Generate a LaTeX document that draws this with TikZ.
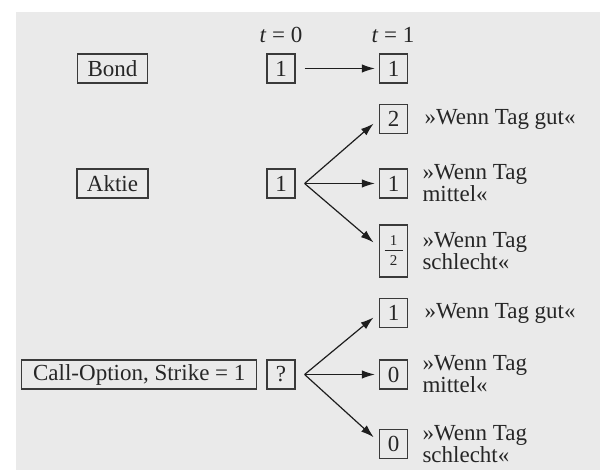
\documentclass[tikz,border=0pt]{standalone}
\usepackage{fontspec}
\setmainfont{Liberation Serif}
\usepackage{tikz}
\usetikzlibrary{arrows.meta,positioning}
\definecolor{bggray}{HTML}{EAEAEA}
\definecolor{boxline}{HTML}{3A3A3A}
\definecolor{arrowline}{HTML}{1E1E1E}
\newcommand{\halb}{\vbox{\hbox to 9pt{\hss\fontsize{7.5}{8}\selectfont 1\hss}\kern2pt\hrule height 0.5pt\kern2.5pt\hbox to 9pt{\hss\fontsize{7.5}{8}\selectfont 2\hss}}}
\tikzset{
  txt/.style={font=\fontsize{11.5}{11}\selectfont, text=black!85},
  wert/.style={txt, draw=boxline, line width=0.6pt, minimum width=14pt, minimum height=14.5pt, inner sep=0pt},
  titel/.style={txt, draw=boxline, line width=0.6pt, minimum height=14.5pt, inner xsep=5pt, inner ysep=0pt},
  zustand/.style={txt, align=left, inner sep=0pt},
  pfeil/.style={-{Latex[length=6.5pt,width=4.2pt]}, draw=arrowline, line width=0.6pt, shorten >=3.5pt}
}
\begin{document}
\begin{tikzpicture}[x=5pt,y=5pt]
\useasboundingbox (0,0) rectangle (60,47);
\fill[bggray] (1.6,0) rectangle (60,45.8);
\node[txt] (tnull) at (28.1,43.5) {\textit{t} = 0};
\node[txt] (teins) at (39.3,43.5) {\textit{t} = 1};
\node[titel, minimum width=34.5pt] (bond) at (11.25,40.15) {Bond};
\node[wert] (bond0) at (28.1,40.15) {1};
\node[wert] (bond1) at (39.35,40.15) {1};
\draw[pfeil, shorten <=4.5pt, shorten >=2pt] (bond0) -- (bond1);
\node[titel, minimum width=34.5pt] (aktie) at (11.25,28.65) {Aktie};
\node[wert] (aktie0) at (28.1,28.65) {1};
\node[wert] (aktieGut) at (39.35,35.1) {2};
\node[wert] (aktieMittel) at (39.35,28.65) {1};
\node[wert, minimum height=26pt] (aktieSchlecht) at (39.35,21.9) {\halb};
\node[zustand, right=8pt of aktieGut] (aktieGutTxt) {»Wenn Tag gut«};
\node[zustand, right=7pt of aktieMittel] (aktieMittelTxt) {»Wenn Tag\\mittel«};
\node[zustand, right=7pt of aktieSchlecht] (aktieSchlechtTxt) {»Wenn Tag\\schlecht«};
\coordinate (aktieS) at ([xshift=4.5pt]aktie0.east);
\draw[pfeil] (aktieS) -- (aktieGut.west);
\draw[pfeil, shorten >=2pt] (aktieS) -- (aktieMittel.west);
\draw[pfeil] (aktieS) -- ([yshift=2pt]aktieSchlecht.west);
\node[wert] (call0) at (28.1,9.55) {?};
\node[titel, minimum width=117.5pt, left=4.5pt of call0] (call) {Call-Option, Strike = 1};
\node[wert] (callGut) at (39.35,15.7) {1};
\node[wert] (callMittel) at (39.35,9.55) {0};
\node[wert] (callSchlecht) at (39.35,2.6) {0};
\node[zustand, right=8pt of callGut] (callGutTxt) {»Wenn Tag gut«};
\node[zustand, right=7pt of callMittel] (callMittelTxt) {»Wenn Tag\\mittel«};
\node[zustand, right=7pt of callSchlecht] (callSchlechtTxt) {»Wenn Tag\\schlecht«};
\coordinate (callS) at ([xshift=4.5pt]call0.east);
\draw[pfeil] (callS) -- (callGut.west);
\draw[pfeil, shorten >=2pt] (callS) -- (callMittel.west);
\draw[pfeil] (callS) -- ([yshift=1pt]callSchlecht.west);
\end{tikzpicture}
\end{document}
